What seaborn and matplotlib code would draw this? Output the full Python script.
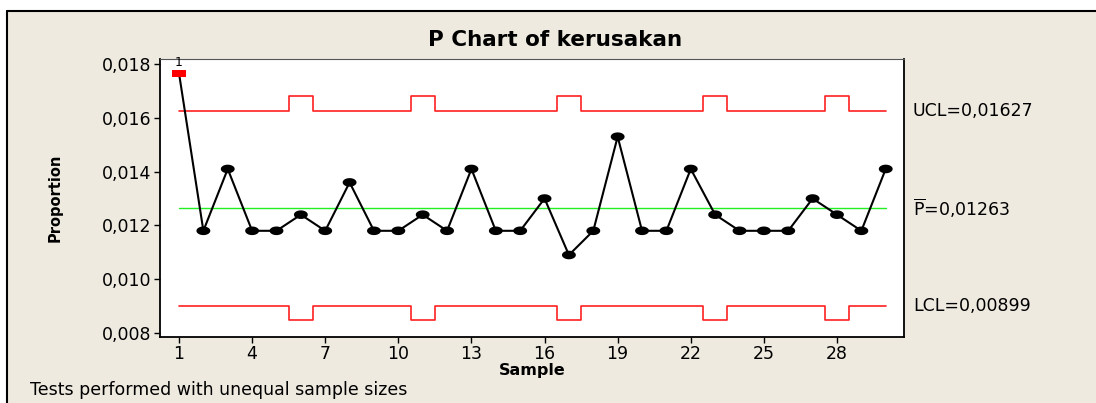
import numpy as np
import pandas as pd
import seaborn as sns
import matplotlib.pyplot as plt
from matplotlib.transforms import blended_transform_factory
from matplotlib.ticker import FuncFormatter

# data
samples = list(range(1, 31))
proportion = [0.01766, 0.0118, 0.0141, 0.0118, 0.0118, 0.0124, 0.0118, 0.0136, 0.0118, 0.0118,
              0.0124, 0.0118, 0.0141, 0.0118, 0.0118, 0.0130, 0.0109, 0.0118, 0.0153, 0.0118,
              0.0118, 0.0141, 0.0124, 0.0118, 0.0118, 0.0118, 0.0130, 0.0124, 0.0118, 0.0141]
ucl = [0.01627, 0.01627, 0.01627, 0.01627, 0.01627, 0.01682, 0.01627, 0.01627, 0.01627, 0.01627,
       0.01682, 0.01627, 0.01627, 0.01627, 0.01627, 0.01627, 0.01682, 0.01627, 0.01627, 0.01627,
       0.01627, 0.01627, 0.01682, 0.01627, 0.01627, 0.01627, 0.01627, 0.01682, 0.01627, 0.01627]
lcl = [0.00899, 0.00899, 0.00899, 0.00899, 0.00899, 0.00850, 0.00899, 0.00899, 0.00899, 0.00899,
       0.00850, 0.00899, 0.00899, 0.00899, 0.00899, 0.00899, 0.00850, 0.00899, 0.00899, 0.00899,
       0.00899, 0.00899, 0.00850, 0.00899, 0.00899, 0.00899, 0.00899, 0.00850, 0.00899, 0.00899]
p_bar = 0.01263
ucl_label = 'UCL=0,01627'
pbar_label = r'$\overline{\mathregular{P}}$=0,01263'
lcl_label = 'LCL=0,00899'
failed = [1]  # samples failing test 1
x_ticks = [1, 4, 7, 10, 13, 16, 19, 22, 25, 28]
y_ticks = [0.008, 0.010, 0.012, 0.014, 0.016, 0.018]

df = pd.DataFrame({'Sample': samples, 'Proportion': proportion, 'UCL': ucl, 'LCL': lcl})
df['P'] = p_bar
bad = df[df['Sample'].isin(failed)]
good = df[~df['Sample'].isin(failed)]

sns.set_style('white')
plt.rcParams['font.family'] = ['DejaVu Sans']
plt.rcParams['text.color'] = 'black'
plt.rcParams['axes.labelcolor'] = 'black'

bg = '#EEEAE0'
fig = plt.figure(figsize=(10.96, 4.03), dpi=100)
fig.patch.set_facecolor('white')

# beige frame with black top/left edge
frame = plt.Rectangle((7 / 1096, 0), 1 - 7 / 1096, (403 - 11) / 403, transform=fig.transFigure,
                      facecolor=bg, edgecolor='none', zorder=-5)
fig.patches.append(frame)
fig.lines.append(plt.Line2D([7 / 1096, 1], [(403 - 11) / 403] * 2, transform=fig.transFigure,
                            color='black', lw=1.5, zorder=-4))
fig.lines.append(plt.Line2D([7 / 1096] * 2, [0, (403 - 11) / 403], transform=fig.transFigure,
                            color='black', lw=1.5, zorder=-4))

ax = fig.add_axes([160 / 1096, 66 / 403, 744 / 1096, 278 / 403])
ax.set_zorder(2)
ax.set_facecolor('white')

# control limits
sns.lineplot(data=df, x='Sample', y='UCL', ax=ax, color='#FF2020', lw=1.2, drawstyle='steps-mid')
sns.lineplot(data=df, x='Sample', y='LCL', ax=ax, color='#FF2020', lw=1.2, drawstyle='steps-mid')
sns.lineplot(data=df, x='Sample', y='P', ax=ax, color='#22EE22', lw=1.0)

# the data
sns.lineplot(data=df, x='Sample', y='Proportion', ax=ax, color='black', lw=1.5, zorder=3)
t = np.linspace(0, 2 * np.pi, 40)
ellipse = list(zip(np.cos(t), 0.62 * np.sin(t)))
sns.scatterplot(data=good, x='Sample', y='Proportion', ax=ax, marker=ellipse, s=100,
                color='black', edgecolor='none', zorder=4)
rect = [(-1, -0.5), (1, -0.5), (1, 0.5), (-1, 0.5), (-1, -0.5)]
sns.scatterplot(data=bad, x='Sample', y='Proportion', ax=ax, marker=rect, s=100,
                color='#FF0000', edgecolor='none', zorder=5)
for _, r in bad.iterrows():
    ax.annotate('1', (r['Sample'], r['Proportion']), xytext=(0, 3), textcoords='offset points',
                ha='center', va='bottom', fontsize=9)

ax.set_xlim(0.22, 30.75)
ax.set_ylim(0.00785, 0.01819)
ax.set_xticks(x_ticks)
ax.set_yticks(y_ticks)
ax.yaxis.set_major_formatter(FuncFormatter(lambda v, p: f'{v:.3f}'.replace('.', ',')))
ax.tick_params(axis='both', which='major', direction='out', length=4, width=1, labelsize=12.5,
               colors='black', left=True, bottom=True, pad=2)
for side in ['left', 'bottom', 'right']:
    ax.spines[side].set_color('black')
    ax.spines[side].set_linewidth(1.3)
ax.spines['top'].set_color('#555555')
ax.spines['top'].set_linewidth(0.8)

ax.set_xlabel('Sample', fontsize=11.5, fontweight='bold', labelpad=0)
ax.set_ylabel('')

# limit labels to the right
tr = blended_transform_factory(ax.transAxes, ax.transData)
for val, lab in [(ucl[0], ucl_label), (p_bar, pbar_label), (lcl[0], lcl_label)]:
    ax.text(1.012, val, lab, transform=tr, ha='left', va='center', fontsize=12.5, clip_on=False)

fig.text(555 / 1096, 1 - 40 / 403, 'P Chart of kerusakan', ha='center', va='center',
         fontsize=15.5, fontweight='bold')
fig.text(55 / 1096, 1 - 198 / 403, 'Proportion', rotation=90, ha='center', va='center',
         fontsize=10.5, fontweight='bold')
fig.text(30 / 1096, 1 - 390 / 403, 'Tests performed with unequal sample sizes', ha='left',
         va='center', fontsize=12.5)

fig.savefig('out.png', dpi=100, facecolor=fig.get_facecolor())
